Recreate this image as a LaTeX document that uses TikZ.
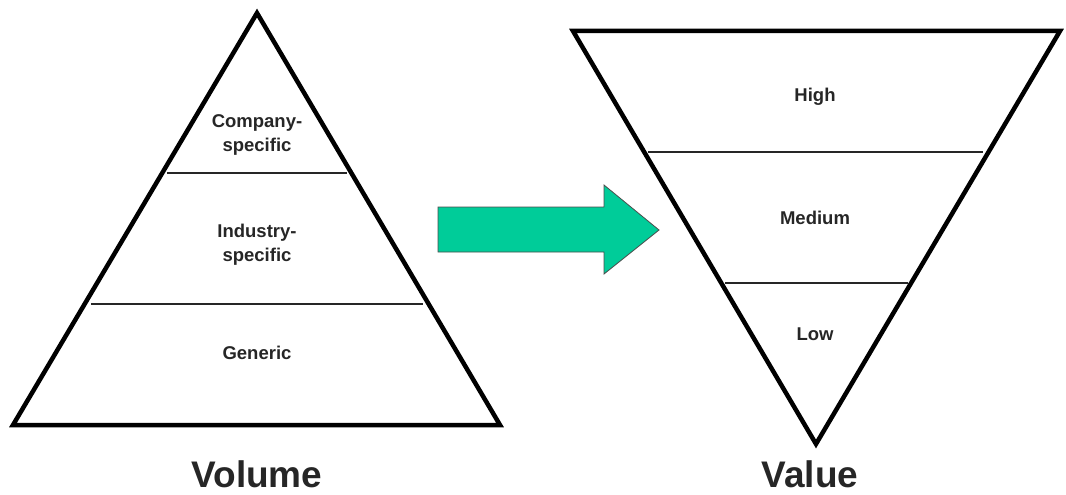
\documentclass[tikz,border=0pt]{standalone}
\usepackage{fontspec}
\setmainfont{Liberation Sans}
\begin{document}
\begin{tikzpicture}[x=1pt,y=-1pt,
  outline/.style={line width=4.5pt, line join=miter},
  divider/.style={line width=1.8pt, black!85},
  lbl/.style={font=\fontsize{18.5}{24}\selectfont\bfseries, text=black!85, align=center, inner sep=0pt},
  title/.style={font=\fontsize{37}{40}\selectfont\bfseries, text=black!85, inner sep=0pt}]
\definecolor{arrowgreen}{RGB}{0,204,153}
\useasboundingbox (0,0) rectangle (1066,495);
% left pyramid
\coordinate (LA) at (257,13);
\coordinate (LB) at (13,425);
\coordinate (LC) at (500,425);
\draw[outline] (LA) -- (LC) -- (LB) -- cycle;
\coordinate (L1a) at (167,173); \coordinate (L1b) at (347,173);
\coordinate (L2a) at (91,304); \coordinate (L2b) at (423,304);
\draw[divider] (L1a) -- (L1b);
\draw[divider] (L2a) -- (L2b);
\node[lbl] (company) at (257,135) {Company-\\specific};
\node[lbl] (industry) at (257,245) {Industry-\\specific};
\node[lbl] (generic) at (257,353) {Generic};
\node[title] (volume) at (257,474) {Volume};
% arrow
\coordinate (A1) at (438,207); \coordinate (A2) at (604,207);
\coordinate (A3) at (604,185); \coordinate (A4) at (659,230);
\coordinate (A5) at (604,274); \coordinate (A6) at (604,252);
\coordinate (A7) at (438,252);
\draw[fill=arrowgreen, draw=black!70, line width=0.8pt] (A1) -- (A2) -- (A3) -- (A4) -- (A5) -- (A6) -- (A7) -- cycle;
% right inverted pyramid
\coordinate (RA) at (573,31);
\coordinate (RB) at (1060,31);
\coordinate (RC) at (816,444);
\draw[outline] (RA) -- (RB) -- (RC) -- cycle;
\coordinate (R1a) at (648,152); \coordinate (R1b) at (983,152);
\coordinate (R2a) at (725,283); \coordinate (R2b) at (908,283);
\draw[divider] (R1a) -- (R1b);
\draw[divider] (R2a) -- (R2b);
\node[lbl] (high) at (815,97) {High};
\node[lbl] (medium) at (815,218) {Medium};
\node[lbl] (low) at (815,334) {Low};
\node[title] (value) at (810,474) {Value};
\end{tikzpicture}
\end{document}
